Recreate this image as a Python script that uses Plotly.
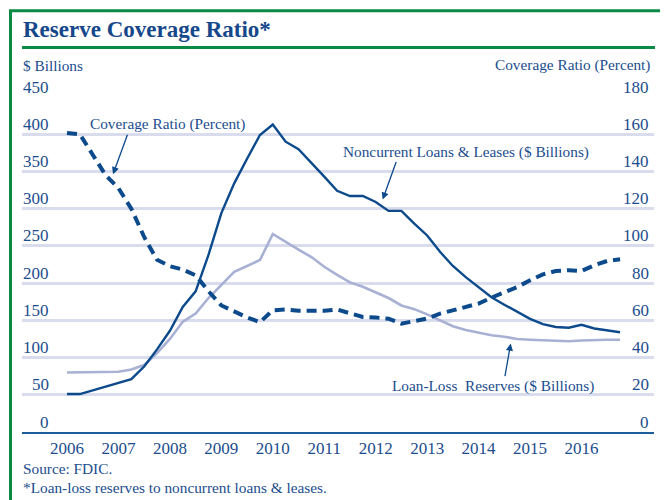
import plotly.graph_objects as go

# ---------------- data (quarterly, 2006Q1 - 2016Q4) ----------------
quarters = [2006 + i * 0.25 for i in range(44)]

noncurrent_loans = [51, 51, 56, 61, 65, 71, 88, 111, 136, 168, 189, 238,
                    294, 334, 367, 399, 413, 390, 380, 362, 343, 324, 317, 317,
                    309, 297, 297, 280, 264, 242, 223, 208, 195, 181, 171, 161,
                    152, 145, 141, 140, 144, 139, 137, 134]

loan_loss_reserves = [80, 80, 80, 80, 81, 84, 90, 106, 125, 148, 159, 180,
                      197, 215, 223, 231, 266, 255, 245, 235, 222, 211, 201, 195,
                      188, 180, 170, 165, 158, 150, 142, 137, 133, 130, 128, 125,
                      124, 123, 122, 122, 123, 124, 124, 124]

coverage_ratio = [160.7, 160, 149, 138, 131, 120, 104.8, 92.5, 89.1, 87.3, 84.2, 75.6,
                  68, 64.5, 61.6, 59, 65.4, 65.8, 65.1, 65.1, 65.1, 65.8, 64, 61.8,
                  61.5, 60.9, 58.2, 59.5, 61, 63.6, 65.4, 66.8, 69, 72.2, 75.2, 77.9,
                  81.5, 84.7, 86.5, 86.9, 86.5, 89.6, 91.9, 92.8]

year_ticks = list(range(2006, 2017))
left_ticks = [0, 50, 100, 150, 200, 250, 300, 350, 400, 450]
right_ticks = [0, 20, 40, 60, 80, 100, 120, 140, 160, 180]

# ---------------- style ----------------
OFF = 8  # page body margin
W, H = 668 - OFF, 500 - OFF
PL, PR, PT, PB = 22, 654, 96.7, 431.7   # plot area in screenshot pixels
DARK = "#0c4a8c"
LIGHT = "#a8b1d4"
TEXT = "#1b4d8e"
GRID = "#d8dcec"
GREEN = "#0b8a45"
FONT = "Liberation Serif"


def px2x(px):
    return (px - PL) / (PR - PL)


def py2y(py):
    return (PB - py) / (PB - PT)


fig = go.Figure()

fig.add_trace(go.Scatter(x=quarters, y=loan_loss_reserves, mode="lines",
                         line=dict(color=LIGHT, width=2.6), yaxis="y",
                         hoverinfo="skip", showlegend=False))
fig.add_trace(go.Scatter(x=quarters, y=noncurrent_loans, mode="lines",
                         line=dict(color=DARK, width=2.4), yaxis="y",
                         hoverinfo="skip", showlegend=False))
fig.add_trace(go.Scatter(x=quarters, y=coverage_ratio, mode="lines",
                         line=dict(color=DARK, width=4, dash="10px,6px"), yaxis="y2",
                         hoverinfo="skip", showlegend=False))

x0 = 2006 - (67 - PL) / 51.45
x1 = 2006 + (PR - 67) / 51.45

annotations = []
# left tick labels (above gridlines)
for v in left_ticks:
    annotations.append(dict(xref="paper", yref="y", x=px2x(51), y=v, xanchor="right",
                            yanchor="middle", yshift=10, showarrow=False, text=str(v),
                            font=dict(family=FONT, size=17, color=TEXT)))
for v in right_ticks:
    annotations.append(dict(xref="paper", yref="y2", x=px2x(651), y=v, xanchor="right",
                            yanchor="middle", yshift=10, showarrow=False, text=str(v),
                            font=dict(family=FONT, size=17, color=TEXT)))

small = dict(family=FONT, size=15.3, color=TEXT)
# title
annotations.append(dict(xref="paper", yref="paper", x=px2x(21), y=py2y(29.5), xanchor="left",
                        yanchor="middle", showarrow=False, text="<b>Reserve Coverage Ratio*</b>",
                        font=dict(family=FONT, size=23, color="#15478a")))
# axis titles
annotations.append(dict(xref="paper", yref="paper", x=px2x(21), y=py2y(65), xanchor="left",
                        yanchor="middle", showarrow=False, text="$ Billions", font=small))
annotations.append(dict(xref="paper", yref="paper", x=px2x(652), y=py2y(65), xanchor="right",
                        yanchor="middle", showarrow=False, text="Coverage Ratio (Percent)", font=small))
# source / footnote
annotations.append(dict(xref="paper", yref="paper", x=px2x(21), y=py2y(468), xanchor="left",
                        yanchor="middle", showarrow=False, text="Source: FDIC.", font=small))
annotations.append(dict(xref="paper", yref="paper", x=px2x(21), y=py2y(487), xanchor="left",
                        yanchor="middle", showarrow=False,
                        text="*Loan-loss reserves to noncurrent loans &amp; leases.", font=small))
# series labels
annotations.append(dict(xref="x", yref="y", x=2006.40, y=413.4, xanchor="left", yanchor="middle",
                        showarrow=False, text="Coverage Ratio (Percent)", font=small))
annotations.append(dict(xref="x", yref="y", x=2011.33, y=376.1, xanchor="left", yanchor="middle",
                        showarrow=False, text="Noncurrent Loans &amp; Leases ($ Billions)", font=small))
annotations.append(dict(xref="x", yref="y", x=2012.27, y=61.4, xanchor="left", yanchor="middle",
                        showarrow=False, text="Loan-Loss&nbsp; Reserves ($ Billions)", font=small))
# arrows
arrow = dict(showarrow=True, text="", arrowhead=2, arrowsize=1.1, arrowwidth=1.3,
             arrowcolor=DARK, xref="x", yref="y")
annotations.append(dict(arrow, x=2006.894, y=346.2, ax=15, ay=-41))
annotations.append(dict(arrow, x=2012.136, y=312.2, ax=14, ay=-39))
annotations.append(dict(arrow, x=2014.624, y=118.8, ax=-6, ay=34))

shapes = [
    # green frame
    dict(type="rect", xref="paper", yref="paper", x0=px2x(10.5), x1=px2x(663.5),
         y0=py2y(520), y1=py2y(10.5), line=dict(color=GREEN, width=3), layer="below"),
    # title underline
    dict(type="line", xref="paper", yref="paper", x0=px2x(22), x1=px2x(655),
         y0=py2y(47.3), y1=py2y(47.3), line=dict(color=GREEN, width=3)),
]

fig.update_layout(
    width=W, height=H,
    margin=dict(l=PL - OFF, r=668 - PR, t=PT - OFF, b=500 - PB, pad=0),
    paper_bgcolor="white", plot_bgcolor="white",
    showlegend=False,
    xaxis=dict(range=[x0, x1], tickvals=year_ticks, ticktext=[str(y) for y in year_ticks],
               showgrid=False, zeroline=False, showline=True, linecolor="#1f5c9e", linewidth=2,
               ticks="", tickfont=dict(family=FONT, size=17, color=TEXT), fixedrange=True),
    yaxis=dict(range=[0, 450], tickvals=left_ticks, showticklabels=False, showgrid=True,
               gridcolor=GRID, gridwidth=2.6, zeroline=False, ticks="", fixedrange=True),
    yaxis2=dict(range=[0, 180], overlaying="y", side="right", showticklabels=False,
                showgrid=False, zeroline=False, ticks="", fixedrange=True),
    annotations=annotations,
    shapes=shapes,
)

fig.write_html("out.html")
